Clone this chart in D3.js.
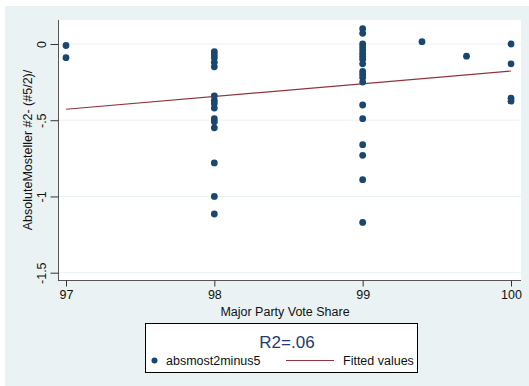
<!DOCTYPE html>
<html lang='en'>
  <head>
    <meta content='text/html;charset=UTF-8' http-equiv='content-type'>
    <title>Absolute Mosteller vs vote share</title>
    <script src="https://cdn.jsdelivr.net/npm/d3@7/dist/d3.min.js" type="text/javascript"></script>
    <style type="text/css" media="screen">
      body { margin: 0; background: #fff; }
      text { font-family: "Liberation Sans", Arial, Helvetica, sans-serif; }
    </style>
  </head>
<body>
</body>
  <script>

var xTicks = [97, 98, 99, 100];
var yTicks = [0, -0.5, -1, -1.5];
var yTickLabels = ["0", "-.5", "-1", "-1.5"];

var voteShare = [97, 97,
  98, 98, 98, 98, 98, 98, 98, 98, 98, 98, 98, 98, 98, 98, 98,
  99, 99, 99, 99, 99, 99, 99, 99, 99, 99, 99, 99, 99, 99, 99, 99, 99, 99, 99,
  99.4, 99.7, 100, 100, 100, 100];
var absMost = [-0.01, -0.09,
  -0.05, -0.07, -0.09, -0.12, -0.15, -0.34, -0.37, -0.39, -0.42, -0.49, -0.51, -0.55, -0.78, -1.0, -1.115,
  0.10, 0.07, 0.0, -0.02, -0.04, -0.06, -0.08, -0.10, -0.13, -0.18, -0.20, -0.22, -0.25, -0.40, -0.49, -0.66, -0.73, -0.89, -1.17,
  0.015, -0.08, 0.0, -0.13, -0.355, -0.375];

var fitX = [97, 100];
var fitY = [-0.428, -0.177];

var legendTitle = "R2=.06";
var legendLabels = ["absmost2minus5", "Fitted values"];

var navy = "#1a476f", maroon = "#90353b", bg = "#eaf2f3";

var svg = d3.select("body").append("svg").attr("width", 529).attr("height", 386);

svg.append("rect").attr("x", 5).attr("y", 6).attr("width", 524).attr("height", 380).attr("fill", bg);
svg.append("rect").attr("x", 58).attr("y", 20).attr("width", 463).attr("height", 260).attr("fill", "#fff");

var x = d3.scaleLinear().domain([97, 100]).range([66, 511]);
var y = d3.scaleLinear().domain([-1.5, 0]).range([272.7, 44]);

// grid
svg.selectAll(".grid").data(yTicks).enter().append("line")
	.attr("x1", 58).attr("x2", 521)
	.attr("y1", function(d){return y(d);}).attr("y2", function(d){return y(d);})
	.attr("stroke", bg).attr("stroke-width", 1);

// axes
var gx = svg.append("g").attr("transform", "translate(0,280.5)")
	.call(d3.axisBottom(x).tickValues(xTicks).tickSize(6).tickPadding(4).tickFormat(d3.format("d")));
var gy = svg.append("g").attr("transform", "translate(58.5,0)")
	.call(d3.axisLeft(y).tickValues(yTicks).tickSize(8).tickFormat(function(d, i){return yTickLabels[i];}));

gx.select(".domain").attr("d", "M58,0H521").attr("stroke", "#555");
gy.select(".domain").attr("d", "M0,20V280").attr("stroke", "#555");
gx.selectAll(".tick line").attr("stroke", "#333");
gy.selectAll(".tick line").attr("stroke", "#333");
gx.selectAll(".tick text").attr("font-size", 12.5).attr("fill", "#111")
	.attr("font-family", "Liberation Sans, Arial, sans-serif");
gy.selectAll(".tick text").attr("font-size", 12.5).attr("fill", "#111")
	.attr("font-family", "Liberation Sans, Arial, sans-serif")
	.attr("text-anchor", "middle").attr("x", 0).attr("dy", 0)
	.attr("transform", "translate(-13,0) rotate(-90)");

svg.append("text").attr("x", 285).attr("y", 316).attr("text-anchor", "middle")
	.attr("font-size", 12.5).attr("fill", "#111").text("Major Party Vote Share");
svg.append("text").attr("transform", "translate(32,150) rotate(-90)").attr("text-anchor", "middle")
	.attr("font-size", 12.5).attr("fill", "#111").text("AbsoluteMosteller #2- (#5/2)/");

// fitted line
svg.append("line")
	.attr("x1", x(fitX[0])).attr("y1", y(fitY[0]))
	.attr("x2", x(fitX[1])).attr("y2", y(fitY[1]))
	.attr("stroke", maroon).attr("stroke-width", 1.2);

// points
svg.selectAll(".pt").data(voteShare).enter().append("circle")
	.attr("cx", function(d){return x(d);})
	.attr("cy", function(d, i){return y(absMost[i]);})
	.attr("r", 3.4)
	.attr("fill", navy);

// legend
svg.append("rect").attr("x", 145.5).attr("y", 323.5).attr("width", 272).attr("height", 49)
	.attr("fill", "#fff").attr("stroke", "#000").attr("stroke-width", 1);
svg.append("text").attr("x", 287).attr("y", 348).attr("text-anchor", "middle")
	.attr("font-size", 17).attr("fill", "#1e3a6e").text(legendTitle);
svg.append("circle").attr("cx", 154.5).attr("cy", 360.5).attr("r", 3).attr("fill", navy);
svg.append("text").attr("x", 166).attr("y", 365).attr("font-size", 12.5).attr("fill", "#111").text(legendLabels[0]);
svg.append("line").attr("x1", 286).attr("x2", 334).attr("y1", 360.5).attr("y2", 360.5)
	.attr("stroke", maroon).attr("stroke-width", 1.2);
svg.append("text").attr("x", 343).attr("y", 365).attr("font-size", 12.5).attr("fill", "#111").text(legendLabels[1]);

  </script>
</html>
